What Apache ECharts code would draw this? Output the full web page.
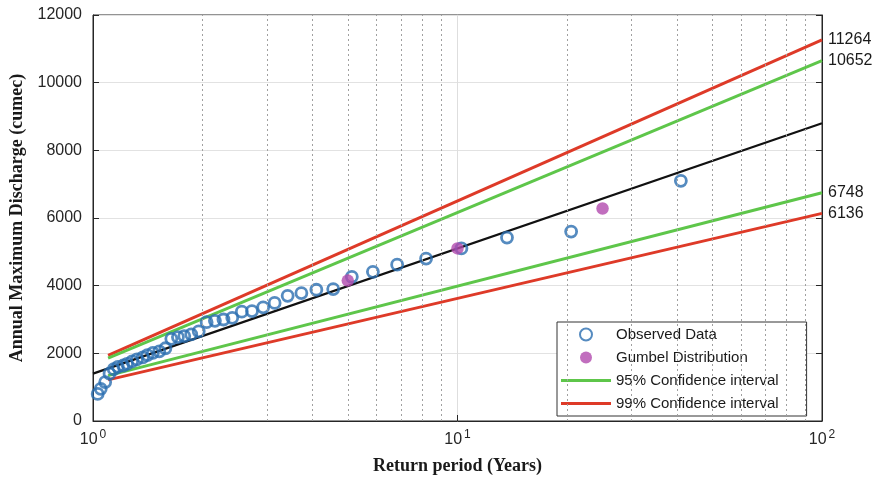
<!DOCTYPE html>
<html>
<head>
<meta charset="utf-8">
<script src="https://cdn.jsdelivr.net/npm/echarts@6/dist/echarts.min.js"></script>
<style>html,body{margin:0;padding:0;background:#fff}#c{width:874px;height:478px}</style>
</head>
<body>
<div id="c"></div>
<script>
const obsReturnPeriod = [41.00, 20.50, 13.67, 10.25, 8.20, 6.83, 5.86, 5.13, 4.56, 4.10,
  3.73, 3.42, 3.15, 2.93, 2.73, 2.56, 2.41, 2.28, 2.16, 2.05,
  1.95, 1.86, 1.78, 1.71, 1.64, 1.58, 1.52, 1.46, 1.41, 1.37,
  1.32, 1.28, 1.24, 1.21, 1.17, 1.14, 1.11, 1.08, 1.05, 1.03];
const obsDischarge = [7100, 5600, 5420, 5100, 4800, 4620, 4410, 4260, 3900, 3880,
  3780, 3700, 3490, 3360, 3250, 3230, 3050, 3000, 2960, 2920,
  2650, 2560, 2510, 2480, 2430, 2150, 2060, 2015, 1950, 1880,
  1820, 1760, 1690, 1640, 1600, 1530, 1400, 1150, 950, 800];
// Gumbel distribution estimates
const gumbelReturnPeriod = [5, 10, 25];
const gumbelDischarge = [4150, 5100, 6280];
// Fitted line
const fitReturnPeriod = [1, 100];
const fitDischarge = [1400, 8800];
// Confidence intervals
const ciReturnPeriod = [1.1, 100];
const ci95Upper = [1860, 10652];
const ci95Lower = [1340, 6748];
const ci99Upper = [1940, 11264];
const ci99Lower = [1215, 6136];
// Axis ticks
const yTicks = [0, 2000, 4000, 6000, 8000, 10000, 12000];
const minorGridX = [2, 3, 4, 5, 6, 7, 8, 9, 20, 30, 40, 50, 60, 70, 80, 90];

const pairs = (xs, ys) => xs.map((x, i) => [x, ys[i]]);
const BLUE = '#2a6eb0', PURPLE = '#b24aae', GREEN = '#5ec64a', RED = '#de3a28';
const AX = '#262626';
const LINE_ICON = 'path://M0,0H50V3H0Z';

function ciSeries(name, color, ys) {
  return {
    name: name, type: 'line', data: pairs(ciReturnPeriod, ys), symbol: 'none',
    lineStyle: { color: color, width: 3 }, itemStyle: { color: color },
    endLabel: { show: true, formatter: p => String(p.value[1]), color: '#1a1a1a',
      fontFamily: 'Liberation Sans', fontSize: 16, distance: 6 },
    silent: true, z: 3
  };
}

const chart = echarts.init(document.getElementById('c'), null, { renderer: 'canvas' });
chart.setOption({
  animation: false,
  backgroundColor: '#fff',
  grid: { left: 93, right: 52, top: 15, bottom: 57, show: true, borderColor: AX, borderWidth: 1,
    containLabel: false, outerBoundsMode: 'none' },
  legend: {
    orient: 'vertical', left: 557, top: 322,
    padding: [5, 28, 5, 4], itemGap: 8, itemWidth: 50, itemHeight: 12,
    backgroundColor: '#fff', borderColor: '#333', borderWidth: 1,
    textStyle: { fontFamily: 'Liberation Sans', fontSize: 15, color: '#1a1a1a', lineHeight: 12 },
    data: [
      { name: 'Observed Data' },
      { name: 'Gumbel Distribution' },
      { name: '95% Confidence interval', icon: LINE_ICON },
      { name: '99% Confidence interval', icon: LINE_ICON }
    ]
  },
  xAxis: {
    type: 'log', logBase: 10, min: 1, max: 100,
    name: 'Return period (Years)', nameLocation: 'middle', nameGap: 36,
    nameTextStyle: { fontFamily: 'Liberation Serif', fontWeight: 'bold', fontSize: 18, color: '#1a1a1a' },
    axisLine: { lineStyle: { color: AX } },
    axisTick: { show: true, inside: true, length: 6, lineStyle: { color: AX } },
    axisLabel: {
      margin: 8,
      formatter: v => '{b|10}{s|' + Math.round(Math.log10(v)) + '}',
      rich: {
        b: { fontFamily: 'Liberation Sans', fontSize: 16, color: AX, lineHeight: 22 },
        s: { fontFamily: 'Liberation Sans', fontSize: 12, color: AX, lineHeight: 12, verticalAlign: 'top', padding: [0, 0, 0, 2] }
      }
    },
    splitLine: { show: true, lineStyle: { color: '#dedede', width: 1 } }
  },
  yAxis: [{
    type: 'value', min: yTicks[0], max: yTicks[yTicks.length - 1], interval: 2000,
    name: 'Annual Maximum Discharge (cumec)', nameLocation: 'middle', nameGap: 66,
    nameTextStyle: { fontFamily: 'Liberation Serif', fontWeight: 'bold', fontSize: 18, color: '#1a1a1a' },
    axisLine: { show: true, lineStyle: { color: AX } },
    axisTick: { show: true, inside: true, length: 6, lineStyle: { color: AX } },
    axisLabel: { fontFamily: 'Liberation Sans', fontSize: 16, color: AX, margin: 11, formatter: v => String(v) },
    splitLine: { show: true, lineStyle: { color: '#e2e2e2', width: 1 } }
  }, {
    type: 'value', position: 'right', min: yTicks[0], max: yTicks[yTicks.length - 1], interval: 2000,
    axisLine: { show: true, lineStyle: { color: AX } },
    axisTick: { show: true, inside: true, length: 6, lineStyle: { color: AX } },
    axisLabel: { show: false }, splitLine: { show: false }
  }],
  series: [
    {
      name: 'minorGrid', type: 'line', data: [], silent: true, z: 1,
      markLine: {
        silent: true, symbol: 'none', label: { show: false },
        lineStyle: { color: '#a0a0a0', type: [2, 3], width: 1 },
        data: minorGridX.map(x => ({ xAxis: x }))
      }
    },
    ciSeries('99% Confidence interval', RED, ci99Upper),
    ciSeries('95% Confidence interval', GREEN, ci95Upper),
    ciSeries('95% Confidence interval', GREEN, ci95Lower),
    ciSeries('99% Confidence interval', RED, ci99Lower),
    {
      name: 'Fit', type: 'line', data: pairs(fitReturnPeriod, fitDischarge), symbol: 'none',
      lineStyle: { color: '#111', width: 2.2 }, silent: true, z: 3
    },
    {
      name: 'Observed Data', type: 'scatter', data: pairs(obsReturnPeriod, obsDischarge),
      symbol: 'circle', symbolSize: 11,
      itemStyle: { color: 'rgba(255,255,255,0)', borderColor: BLUE, borderWidth: 2.8 }, z: 4
    },
    {
      name: 'Gumbel Distribution', type: 'scatter', data: pairs(gumbelReturnPeriod, gumbelDischarge),
      symbol: 'circle', symbolSize: 12.5,
      itemStyle: { color: PURPLE }, z: 5
    }
  ]
});
</script>
</body>
</html>
